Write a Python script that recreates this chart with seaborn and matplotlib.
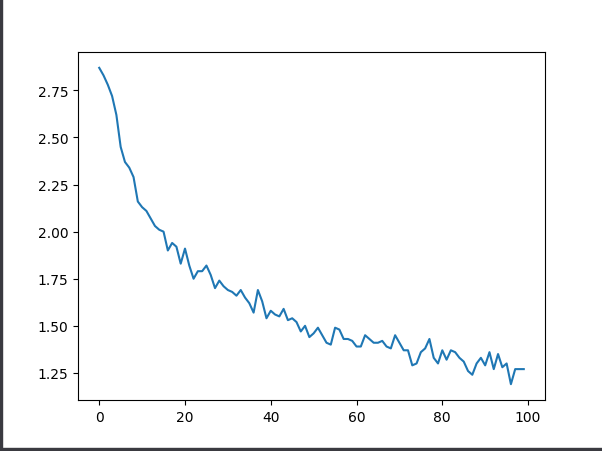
import matplotlib
matplotlib.use("Agg")
import matplotlib.pyplot as plt
import numpy as np
import seaborn as sns
from matplotlib.patches import Rectangle

epochs = list(range(100))
loss = [
    2.87, 2.83, 2.78, 2.72, 2.62, 2.45, 2.37, 2.34, 2.29, 2.16,
    2.13, 2.11, 2.07, 2.03, 2.01, 2.00, 1.90, 1.94, 1.92, 1.83,
    1.91, 1.82, 1.75, 1.79, 1.79, 1.82, 1.77, 1.70, 1.74, 1.71,
    1.69, 1.68, 1.66, 1.69, 1.65, 1.62, 1.57, 1.69, 1.63, 1.54,
    1.58, 1.56, 1.55, 1.59, 1.53, 1.54, 1.52, 1.47, 1.50, 1.44,
    1.46, 1.49, 1.45, 1.41, 1.40, 1.49, 1.48, 1.43, 1.43, 1.42,
    1.39, 1.39, 1.45, 1.43, 1.41, 1.41, 1.42, 1.39, 1.38, 1.45,
    1.41, 1.37, 1.37, 1.29, 1.30, 1.36, 1.38, 1.43, 1.33, 1.30,
    1.37, 1.32, 1.37, 1.36, 1.33, 1.31, 1.26, 1.24, 1.30, 1.33,
    1.29, 1.36, 1.27, 1.35, 1.28, 1.30, 1.19, 1.27, 1.27, 1.27,
]

fig = plt.figure(figsize=(6.02, 4.52), dpi=100)
ax = fig.add_axes([78/602, 1 - 401/452, (545-78)/602, (401-53)/452])
sns.lineplot(x=np.array(epochs), y=np.array(loss), ax=ax, color="#1f77b4", linewidth=1.5)
ax.set_xticks([0, 20, 40, 60, 80, 100])
ax.set_yticks([1.25, 1.50, 1.75, 2.00, 2.25, 2.50, 2.75])

# screenshot frame edges
fig.patches.append(Rectangle((0, 0), 2/602, 1, transform=fig.transFigure, color="#3a3a40", zorder=10))
fig.patches.append(Rectangle((0, 0), 1, 3/452, transform=fig.transFigure, color="#3a3a40", zorder=10))

fig.savefig("out.png", dpi=100)
